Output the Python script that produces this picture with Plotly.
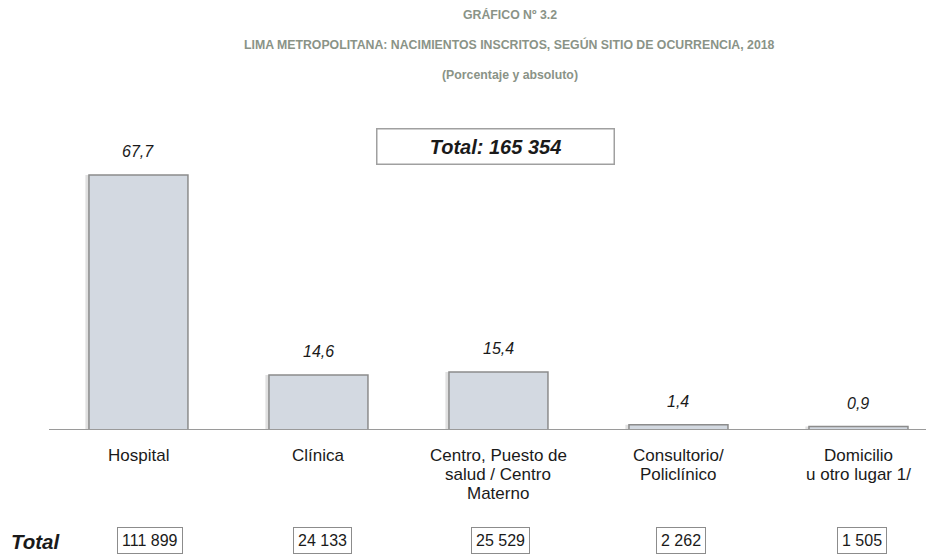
import plotly.graph_objects as go

# ---- data ----
categories = ["Hospital", "Clínica", "Centro, Puesto de<br>salud / Centro<br>Materno",
              "Consultorio/<br>Policlínico", "Domicilio<br>u otro lugar 1/"]
percentages = [67.7, 14.6, 15.4, 1.4, 0.9]
absolutes = [111899, 24133, 25529, 2262, 1505]
total = 165354
title_lines = ["GRÁFICO Nº 3.2",
               "LIMA METROPOLITANA: NACIMIENTOS INSCRITOS, SEGÚN SITIO DE OCURRENCIA, 2018",
               "(Porcentaje y absoluto)"]

def fmt_pct(v):
    return f"{v:.1f}".replace(".", ",")

def fmt_int(v):
    return f"{v:,}".replace(",", " ")

# ---- layout constants (page has an 8px body margin) ----
OFF = 8
W, H = 934 - OFF, 554 - OFF
ML, MR, MT = 49 - OFF, 1, 100 - OFF
BASE = 430 - OFF
MB = H - BASE
plot_h = BASE - MT
plot_w = W - ML - MR
scale = 3.767  # px per percentage unit
ymax = plot_h / scale
box_centers_px = [150, 322, 501, 681, 862]

def px_x(ref_px):
    return (ref_px - OFF - ML) / plot_w

def px_y(ref_px):
    return (BASE - (ref_px - OFF)) / plot_h

xpos = list(range(len(categories)))
TITLE_COLOR = "#8a9387"
TEXT = "#1a1a1a"
SANS = "Liberation Sans, Arial"

fig = go.Figure()
fig.add_trace(go.Bar(x=[p - 0.02 for p in xpos], y=percentages, width=0.55,
                     marker=dict(color="rgba(0,0,0,0.12)", line=dict(width=0)),
                     hoverinfo="skip", showlegend=False))
fig.add_trace(go.Bar(x=xpos, y=percentages, width=0.55,
                     marker=dict(color="#d3d9e1", line=dict(color="#8c8c8c", width=1.5)),
                     showlegend=False))

annotations = []
for x, v in zip(xpos, percentages):
    annotations.append(dict(x=x, y=v, xref="x", yref="y", text="<i>" + fmt_pct(v) + "</i>",
                            showarrow=False, yanchor="bottom", yshift=13,
                            font=dict(family=SANS, size=16, color=TEXT)))
for x, cat in zip(xpos, categories):
    for i, line in enumerate(cat.split("<br>")):
        annotations.append(dict(x=x, xref="x", y=px_y(455 + 19 * i), yref="paper",
                                xanchor="center", yanchor="middle",
                                text=line, showarrow=False,
                                font=dict(family=SANS, size=17, color=TEXT)))
for cx, a in zip(box_centers_px, absolutes):
    annotations.append(dict(x=px_x(cx), y=px_y(540), xref="paper", yref="paper", text=fmt_int(a),
                            xanchor="center", yanchor="middle",
                            showarrow=False, font=dict(family=SANS, size=16, color=TEXT),
                            bordercolor="#8c8c8c", borderwidth=1, borderpad=4, bgcolor="white"))
annotations.append(dict(x=px_x(36), xref="paper", y=px_y(541), yref="paper",
                        xanchor="center", yanchor="middle",
                        text="<b><i>Total</i></b>", showarrow=False,
                        font=dict(family=SANS, size=20.5, color=TEXT)))
annotations.append(dict(x=px_x(495.5), xref="paper", y=px_y(146), yref="paper",
                        xanchor="center", yanchor="middle",
                        text="<b><i>Total: " + fmt_int(total) + "</i></b>", showarrow=False,
                        width=234, height=32,
                        font=dict(family=SANS, size=20, color=TEXT),
                        bordercolor="#a0a0a0", borderwidth=1.5, bgcolor="white"))
for ypx, t in zip([14, 45, 75], title_lines):
    annotations.append(dict(x=px_x(509.5), xref="paper", y=px_y(ypx), yref="paper",
                            xanchor="center", yanchor="middle",
                            text="<b>" + t + "</b>", showarrow=False,
                            font=dict(family=SANS, size=12.3, color=TITLE_COLOR)))

fig.update_layout(
    width=W, height=H,
    margin=dict(l=ML, r=MR, t=MT, b=MB, pad=0),
    paper_bgcolor="white", plot_bgcolor="white",
    barmode="overlay",
    xaxis=dict(range=[-0.497, 4.414], showticklabels=False,
               showgrid=False, zeroline=False, showline=False, ticks="",
               fixedrange=True),
    yaxis=dict(range=[0, ymax], visible=False, showgrid=False, fixedrange=True),
    shapes=[dict(type="line", xref="paper", yref="y", x0=0, x1=1, y0=0, y1=0,
                 line=dict(color="#9a9a9a", width=2))],
    annotations=annotations,
)
fig.write_html("out.html")
